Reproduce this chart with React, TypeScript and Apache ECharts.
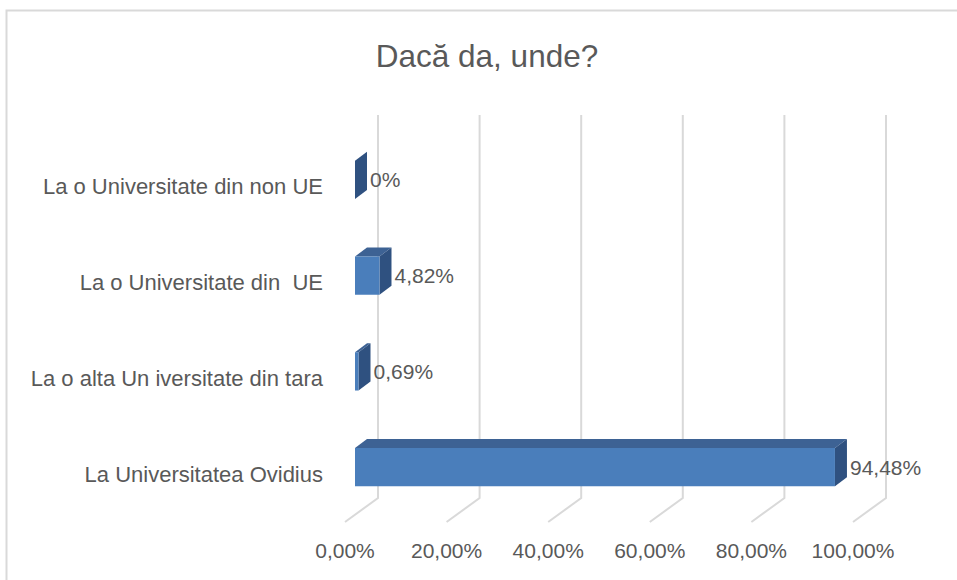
import React, { useEffect, useRef } from "react";
import * as echarts from "echarts";

const TITLE = "Dacă da, unde?";
const categories = [
  "La Universitatea Ovidius",
  "La o alta Un iversitate din tara",
  "La o Universitate din  UE",
  "La o Universitate din non UE",
];
const values = [94.48, 0.69, 4.82, 0];
const ticks = [0, 20, 40, 60, 80, 100];

const FONT = "'Liberation Sans', Arial, sans-serif";
const TEXT = "#595959";
const GRID = "#d9d9d9";
const FRONT = "#4a7ebb";
const TOP = "#3d6294";
const SIDE = "#2f5180";

// 3D projection offsets (back wall -> front of floor)
const FLOOR_DX = -33;
const FLOOR_DY = 24;
const BAR_FRONT_DX = -23;
const BAR_FRONT_DY = 17;
const DEPTH_DX = 12;
const DEPTH_DY = -9;

const fmtTick = (v: number) => v.toFixed(2).replace(".", ",") + "%";
const fmtVal = (v: number) => (v === 0 ? "0%" : v.toFixed(2).replace(".", ",") + "%");

export default function App() {
  const ref = useRef<HTMLDivElement>(null);
  useEffect(() => {
    if (!ref.current) return;
    const chart = echarts.init(ref.current, undefined, { renderer: "svg" });
    chart.setOption({
      animation: false,
      backgroundColor: "#ffffff",
      title: {
        text: TITLE,
        left: 487,
        top: 40,
        padding: 0,
        textAlign: "center",
        textStyle: { fontSize: 31.5, fontWeight: "normal", color: TEXT, fontFamily: FONT },
      },
      graphic: [
        {
          type: "rect",
          shape: { x: 6.5, y: 10.5, width: 1200, height: 1200 },
          style: { fill: "none", stroke: GRID, lineWidth: 2 },
          silent: true,
          z: -10,
        },
      ],
      grid: { left: 378, right: 71, top: 115, bottom: 82, containLabel: false },
      xAxis: {
        type: "value",
        min: 0,
        max: 100,
        interval: 20,
        axisLine: { show: false },
        axisTick: { show: false },
        splitLine: { show: false },
        axisLabel: {
          formatter: (v: number) => fmtTick(v),
          margin: 42,
          padding: [0, -FLOOR_DX * 2, 0, 0],
          color: TEXT,
          fontSize: 21,
          fontFamily: FONT,
        },
      },
      yAxis: {
        type: "category",
        data: categories,
        axisLine: { show: false },
        axisTick: { show: false },
        splitLine: { show: false },
        axisLabel: { show: false },
      },
      series: [
        {
          type: "custom",
          name: "grid",
          silent: true,
          z: 1,
          data: ticks.map((t) => [t, 0]),
          encode: { x: 0, y: 1 },
          renderItem: (params: any, api: any) => {
            const x = api.coord([api.value(0), 0])[0];
            const cs = params.coordSys;
            const top = cs.y;
            const bottom = cs.y + cs.height;
            return {
              type: "polyline",
              shape: {
                points: [
                  [x, top],
                  [x, bottom],
                  [x + FLOOR_DX, bottom + FLOOR_DY],
                ],
              },
              style: { stroke: GRID, lineWidth: 2, fill: "none" },
            };
          },
        },
        {
          type: "custom",
          name: "bars",
          z: 5,
          data: values.map((v, i) => [v, i]),
          encode: { x: 0, y: 1 },
          renderItem: (params: any, api: any) => {
            const v = api.value(0);
            const ci = api.value(1);
            const cs = params.coordSys;
            const p0 = api.coord([0, ci]);
            const p1 = api.coord([v, ci]);
            const band = api.size([0, 1])[1];
            const h = band * 0.4;
            const cy = p0[1] + BAR_FRONT_DY;
            const x0 = p0[0] + BAR_FRONT_DX;
            const x1 = p1[0] + BAR_FRONT_DX;
            const yT = cy - h / 2;
            const yB = cy + h / 2;
            return {
              type: "group",
              children: [
                {
                  type: "polygon",
                  shape: { points: [[x0, yT], [x0 + DEPTH_DX, yT + DEPTH_DY], [x1 + DEPTH_DX, yT + DEPTH_DY], [x1, yT]] },
                  style: { fill: TOP },
                },
                {
                  type: "polygon",
                  shape: { points: [[x1, yT], [x1 + DEPTH_DX, yT + DEPTH_DY], [x1 + DEPTH_DX, yB + DEPTH_DY], [x1, yB]] },
                  style: { fill: SIDE },
                },
                {
                  type: "rect",
                  shape: { x: x0, y: yT, width: Math.max(x1 - x0, 0), height: h },
                  style: { fill: FRONT },
                },
                {
                  type: "text",
                  x: x1 + DEPTH_DX + 3,
                  y: cy,
                  style: {
                    text: fmtVal(v),
                    fill: TEXT,
                    fontSize: 21,
                    fontFamily: FONT,
                    align: "left",
                    verticalAlign: "middle",
                  },
                },
                {
                  type: "text",
                  x: cs.x - 55,
                  y: p0[1] + FLOOR_DY,
                  style: {
                    text: categories[ci],
                    fill: TEXT,
                    fontSize: 22,
                    fontFamily: FONT,
                    align: "right",
                    verticalAlign: "middle",
                  },
                },
              ],
            };
          },
        },
      ],
    });
    return () => chart.dispose();
  }, []);
  return (
    <div
      ref={ref}
      style={{ position: "fixed", left: 0, top: 0, width: 957, height: 580, background: "#fff" }}
    />
  );
}
